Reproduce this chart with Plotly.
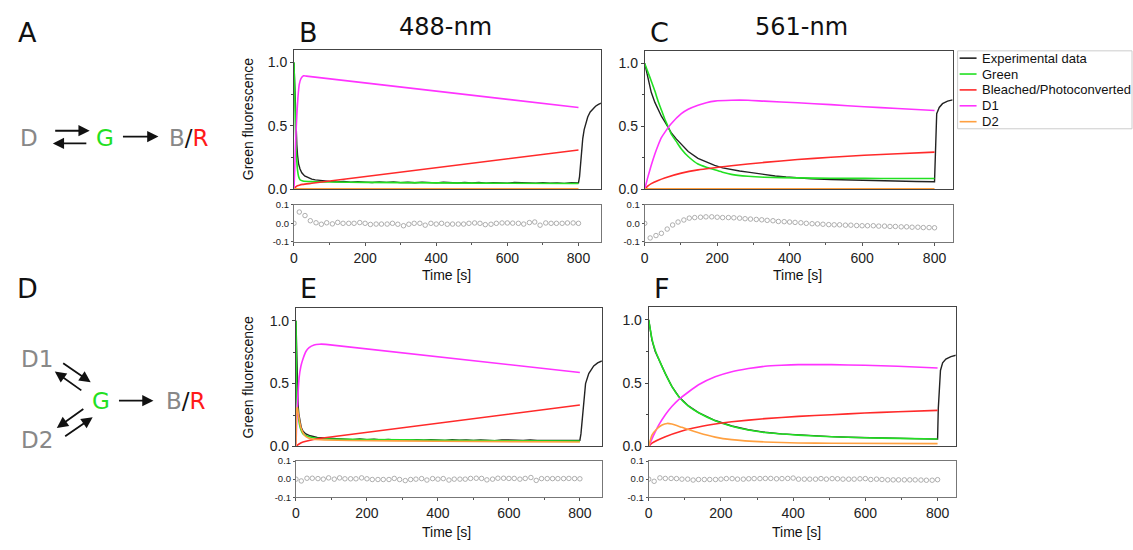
import plotly.graph_objects as go

# ---------------- data ----------------
# Panel B (488-nm, model A)
b_exp_t = [0, 2, 4, 6, 8, 10, 13, 17, 22, 30, 40, 50, 60, 70, 80, 90,
           100, 120, 140, 160, 180, 200, 220, 240, 260, 280, 300, 320, 340, 360, 380, 400, 420, 440,
           460, 480, 500, 520, 540, 560, 580, 600, 620, 640, 660, 680, 700, 720, 740, 760, 780, 800,
           803, 806, 809, 812, 816, 820, 826, 833, 840, 848, 856, 865]
b_exp = [1.0, 0.8, 0.6, 0.45, 0.35, 0.27, 0.2, 0.16, 0.13, 0.105, 0.09, 0.08, 0.074, 0.07, 0.066, 0.064,
         0.062, 0.058, 0.061, 0.055, 0.059, 0.056, 0.053, 0.058, 0.054, 0.057, 0.052, 0.055, 0.051, 0.056,
         0.053, 0.05, 0.055, 0.052, 0.049, 0.054, 0.05, 0.053, 0.048, 0.052, 0.05, 0.047, 0.053, 0.049,
         0.051, 0.047, 0.052, 0.048, 0.05, 0.046, 0.051, 0.05,
         0.1, 0.22, 0.33, 0.4, 0.47, 0.52, 0.57, 0.61, 0.635, 0.655, 0.67, 0.68]
b_green_t = [0, 2, 4, 6, 8, 10, 13, 17, 25, 50, 100, 200, 400, 600, 800]
b_green = [1.0, 0.75, 0.5, 0.33, 0.22, 0.15, 0.1, 0.075, 0.065, 0.06, 0.057, 0.054, 0.05, 0.047, 0.045]
b_red_t = [0, 3, 6, 10, 15, 25, 50, 800]
b_red = [0, 0.01, 0.02, 0.027, 0.032, 0.038, 0.047, 0.31]
b_d1_t = [0, 2, 5, 8, 11, 15, 20, 27, 35, 800]
b_d1 = [0, 0.15, 0.4, 0.58, 0.72, 0.83, 0.875, 0.895, 0.893, 0.645]
b_d2_t = [0, 800]
b_d2 = [0.003, 0.003]

# Panel C (561-nm, model A)
c_exp_t = [0, 9, 18, 28, 37, 46, 55, 64, 73, 87, 101, 120, 147, 170, 193, 215, 239, 262, 285, 310,
           330, 360, 390, 422, 460, 514, 560, 606, 650, 698, 750, 800, 803, 806, 813, 822, 836, 850]
c_exp = [1.0, 0.88, 0.77, 0.69, 0.63, 0.58, 0.54, 0.49, 0.45, 0.4, 0.36, 0.3, 0.245, 0.215, 0.19, 0.17,
         0.155, 0.145, 0.136, 0.125, 0.115, 0.105, 0.097, 0.09, 0.083, 0.077, 0.073, 0.07, 0.067, 0.064,
         0.061, 0.059, 0.45, 0.6, 0.65, 0.68, 0.70, 0.71]
c_green_t = [0, 9, 18, 28, 37, 46, 55, 64, 73, 87, 101, 120, 147, 170, 193, 215, 239, 285, 330, 422,
             514, 606, 698, 800]
c_green = [1.0, 0.93, 0.86, 0.78, 0.7, 0.63, 0.56, 0.5, 0.44, 0.38, 0.32, 0.26, 0.2, 0.175, 0.155, 0.135,
           0.118, 0.103, 0.095, 0.09, 0.087, 0.086, 0.085, 0.085]
c_red_t = [0, 9, 18, 37, 55, 101, 147, 239, 330, 422, 514, 606, 698, 800]
c_red = [0, 0.026, 0.044, 0.07, 0.09, 0.128, 0.154, 0.187, 0.213, 0.236, 0.254, 0.27, 0.282, 0.295]
c_d1_t = [0, 9, 18, 28, 37, 46, 55, 73, 101, 120, 147, 170, 193, 239, 285, 330, 422, 514, 606, 698, 800]
c_d1 = [0, 0.1, 0.19, 0.28, 0.35, 0.41, 0.45, 0.52, 0.6, 0.635, 0.667, 0.687, 0.70, 0.707, 0.707, 0.70,
        0.687, 0.672, 0.656, 0.641, 0.626]
c_d2_t = [0, 800]
c_d2 = [0.003, 0.003]

# Panel E (488-nm, model D)
e_exp_t = [0, 1, 2, 4, 6, 8, 11, 15, 20, 28, 40, 60, 80, 100,
           120, 140, 160, 180, 200, 220, 240, 260, 280, 300, 320, 340, 360, 380, 400, 420, 440, 460,
           480, 500, 520, 540, 560, 580, 600, 620, 640, 660, 680, 700, 720, 740, 760, 780, 800,
           803, 806, 811, 816, 825, 839, 850, 862]
e_exp = [1.0, 0.85, 0.7, 0.45, 0.33, 0.26, 0.2, 0.15, 0.12, 0.1, 0.085, 0.072, 0.067, 0.064,
         0.06, 0.058, 0.055, 0.059, 0.054, 0.057, 0.053, 0.056, 0.052, 0.055, 0.051, 0.055, 0.05, 0.054,
         0.052, 0.049, 0.054, 0.05, 0.053, 0.048, 0.052, 0.05, 0.047, 0.053, 0.049, 0.051, 0.048, 0.052,
         0.049, 0.05, 0.047, 0.051, 0.048, 0.05, 0.05,
         0.1, 0.2, 0.4, 0.5, 0.58, 0.64, 0.665, 0.68]
e_green_t = [0, 1, 2, 3, 5, 8, 12, 16, 20, 28, 40, 60, 100, 200, 400, 600, 800]
e_green = [1.0, 0.7, 0.45, 0.35, 0.28, 0.21, 0.15, 0.12, 0.1, 0.085, 0.075, 0.066, 0.06, 0.055, 0.05,
           0.046, 0.043]
e_red_t = [0, 5, 10, 20, 40, 70, 800]
e_red = [0, 0.012, 0.022, 0.035, 0.05, 0.065, 0.33]
e_d1_t = [0, 2, 5, 9, 14, 19, 28, 37, 51, 66, 84, 800]
e_d1 = [0, 0.2, 0.38, 0.55, 0.64, 0.69, 0.755, 0.786, 0.807, 0.813, 0.812, 0.588]
e_d2_t = [0, 1, 2, 4, 6, 9, 13, 18, 25, 35, 50, 80, 150, 400, 800]
e_d2 = [0, 0.2, 0.3, 0.31, 0.27, 0.22, 0.16, 0.12, 0.085, 0.068, 0.057, 0.052, 0.048, 0.042, 0.036]

# Panel F (561-nm, model D)
f_exp_t = [0, 9, 18, 28, 46, 64, 83, 110, 138, 184, 230, 276, 322, 368, 414, 460, 506, 552, 598, 644,
           690, 745, 800, 802, 805, 808, 814, 823, 837, 851]
f_exp = [1.0, 0.84, 0.75, 0.685, 0.575, 0.475, 0.395, 0.32, 0.268, 0.205, 0.162, 0.132, 0.112, 0.1, 0.091,
         0.083, 0.078, 0.073, 0.07, 0.067, 0.064, 0.061, 0.058, 0.3, 0.5, 0.6, 0.66, 0.69, 0.71, 0.72]
f_green_t = [0, 9, 18, 28, 46, 64, 83, 110, 138, 184, 230, 276, 322, 414, 506, 598, 690, 800]
f_green = [1.0, 0.85, 0.76, 0.69, 0.575, 0.475, 0.395, 0.318, 0.266, 0.203, 0.16, 0.13, 0.11, 0.09, 0.077,
           0.069, 0.064, 0.059]
f_red_t = [0, 9, 46, 92, 138, 184, 230, 322, 414, 506, 598, 690, 800]
f_red = [0, 0.026, 0.077, 0.123, 0.154, 0.177, 0.195, 0.22, 0.238, 0.251, 0.264, 0.274, 0.285]
f_d1_t = [0, 9, 18, 28, 46, 64, 83, 110, 138, 184, 230, 276, 322, 368, 414, 506, 598, 690, 800]
f_d1 = [0, 0.06, 0.115, 0.17, 0.25, 0.315, 0.37, 0.43, 0.487, 0.55, 0.59, 0.615, 0.633, 0.641, 0.646,
        0.646, 0.641, 0.633, 0.62]
f_d2_t = [0, 9, 23, 37, 51, 64, 92, 138, 184, 230, 322, 414, 506, 800]
f_d2 = [0, 0.09, 0.14, 0.17, 0.182, 0.177, 0.151, 0.108, 0.074, 0.054, 0.036, 0.028, 0.026, 0.023]

# Residuals
res_t = [0, 15, 31, 46, 62, 77, 92, 108, 123, 138, 154, 169, 185, 200, 215, 231, 246, 262, 277, 292,
         308, 323, 338, 354, 369, 385, 400, 415, 431, 446, 462, 477, 492, 508, 523, 538, 554, 569, 585, 600,
         615, 631, 646, 662, 677, 692, 708, 723, 738, 754, 769, 785, 800]
b_res = [0, 0.061, 0.042, 0.014, 0.003, -0.005, 0.003, -0.003, 0.005, 0, 0, 0, 0.004, 0, -0.006, -0.004,
         -0.004, -0.004, 0, -0.005, -0.013, -0.005, 0, 0, -0.01, 0, -0.004, 0, -0.005, -0.004, -0.004,
         -0.004, 0, 0.002, 0, -0.007, -0.005, 0, 0.002, 0.002, 0.001, 0, -0.004, 0.004, 0.007, -0.01,
         0.002, 0, 0, 0, 0.002, 0.002, 0]
c_res = [0, -0.079, -0.066, -0.054, -0.031, -0.009, 0.007, 0.018, 0.028, 0.031, 0.033, 0.035, 0.035,
         0.033, 0.031, 0.031, 0.03, 0.028, 0.025, 0.023, 0.021, 0.019, 0.016, 0.014, 0.01, 0.009, 0.007,
         0.005, 0.003, 0, -0.002, -0.003, -0.005, -0.007, -0.008, -0.008, -0.01, -0.01, -0.012, -0.013,
         -0.013, -0.013, -0.015, -0.015, -0.017, -0.017, -0.019, -0.019, -0.021, -0.021, -0.023, -0.023, -0.024]
e_res = [0, -0.01, 0.005, 0.005, 0.003, 0, 0.007, 0, 0.007, 0.002, 0.002, 0.002, 0.007, 0.002, -0.002,
         -0.002, -0.002, -0.002, 0.004, -0.002, -0.008, -0.002, 0, 0.003, -0.005, 0.003, 0, 0.003, -0.005,
         0, 0, 0, 0.004, 0.005, 0.004, -0.004, 0, 0.005, 0.005, 0.004, 0.004, 0, 0.004, 0.009, -0.007,
         0.003, 0.003, 0.003, 0.003, 0.003, 0.004, 0.003, 0.002]
f_res = [0, -0.012, 0.007, 0.004, 0.004, 0.003, 0, 0, -0.005, -0.002, -0.002, -0.002, -0.002, 0, 0.003,
         0.003, 0, 0, 0.002, 0.003, 0.003, 0.004, 0.004, 0.002, 0.003, 0.004, 0.006, 0, 0, 0, 0, 0.003, 0,
         0.003, 0.002, 0, 0, 0, 0.002, 0.003, -0.002, 0, -0.002, -0.004, -0.004, -0.004, -0.004, -0.004,
         -0.004, -0.005, -0.006, -0.006, -0.003]

series_names = ["Experimental data", "Green", "Bleached/Photoconverted", "D1", "D2"]
series_colors = ["#222222", "#22e022", "#ff2a2a", "#ff33ff", "#ffa040"]
main_ticks = [0, 0.5, 1.0]
main_ticktext = ["0.0", "0.5", "1.0"]
res_ticks = [-0.1, 0, 0.1]
res_ticktext = ["-0.1", "0.0", "0.1"]
time_ticks = [0, 200, 400, 600, 800]

# ---------------- layout helpers ----------------
W, H = 1133, 550
def fx(px): return px / W
def fy(py): return 1 - py / H

FONT = "Liberation Sans, Arial, sans-serif"
DFONT = "DejaVu Sans, Verdana, sans-serif"

panels = [
    dict(exp=(b_exp_t, b_exp), green=(b_green_t, b_green), red=(b_red_t, b_red), d1=(b_d1_t, b_d1),
         d2=(b_d2_t, b_d2), res=b_res, xpx=(291, 599), ypx=(45, 188), rpx=(204, 242), xmax=863),
    dict(exp=(c_exp_t, c_exp), green=(c_green_t, c_green), red=(c_red_t, c_red), d1=(c_d1_t, c_d1),
         d2=(c_d2_t, c_d2), res=c_res, xpx=(643, 952), ypx=(46, 188), rpx=(204, 242), xmax=850),
    dict(exp=(e_exp_t, e_exp), green=(e_green_t, e_green), red=(e_red_t, e_red), d1=(e_d1_t, e_d1),
         d2=(e_d2_t, e_d2), res=e_res, xpx=(293, 600), ypx=(310, 452), rpx=(467, 504), xmax=862),
    dict(exp=(f_exp_t, f_exp), green=(f_green_t, f_green), red=(f_red_t, f_red), d1=(f_d1_t, f_d1),
         d2=(f_d2_t, f_d2), res=f_res, xpx=(647, 955), ypx=(309, 452), rpx=(467, 504), xmax=850),
]

fig = go.Figure()
layout = {}
for i, p in enumerate(panels):
    mi = 2 * i + 1
    ri = 2 * i + 2
    mx = "x" if mi == 1 else f"x{mi}"
    my = "y" if mi == 1 else f"y{mi}"
    rx, ry = f"x{ri}", f"y{ri}"
    keys = ["exp", "green", "red", "d1", "d2"]
    for k, name, col in zip(keys, series_names, series_colors):
        t, v = p[k]
        fig.add_trace(go.Scatter(
            x=t, y=v, mode="lines", name=name, showlegend=False,
            line=dict(color=col, width=1.6 if k != "exp" else 1.4,
                      shape="linear" if k == "exp" else "spline", smoothing=0.5),
            xaxis=mx, yaxis=my))
    fig.add_trace(go.Scatter(
        x=res_t, y=p["res"], mode="markers", showlegend=False,
        marker=dict(symbol="circle-open", size=4.5, color="#9a9a9a", line=dict(width=0.8)),
        xaxis=rx, yaxis=ry))

    xdom = [fx(p["xpx"][0]), fx(p["xpx"][1])]
    axk = "xaxis" if mi == 1 else f"xaxis{mi}"
    ayk = "yaxis" if mi == 1 else f"yaxis{mi}"
    layout[axk] = dict(domain=xdom, range=[0, p["xmax"]], anchor=my, showline=True, mirror=True,
                       linecolor="#444", linewidth=1, showgrid=False, zeroline=False,
                       showticklabels=False, ticks="")
    layout[ayk] = dict(domain=[fy(p["ypx"][1]), fy(p["ypx"][0])], range=[0, 1.1], anchor=mx,
                       showline=True, mirror=True, linecolor="#444", linewidth=1, showgrid=False,
                       zeroline=False, tickvals=main_ticks, ticktext=main_ticktext, ticks="outside",
                       ticklen=3, tickcolor="#444",
                       minor=dict(tickvals=[0.25, 0.75], ticklen=2, tickcolor="#444", ticks="outside"),
                       tickfont=dict(family=FONT, size=14, color="#222"))
    layout[f"xaxis{ri}"] = dict(domain=xdom, range=[0, p["xmax"]], anchor=ry, showline=True, mirror=True,
                                linecolor="#777", linewidth=1, showgrid=False, zeroline=False,
                                tickvals=time_ticks, ticks="outside", ticklen=3, tickcolor="#555",
                                minor=dict(dtick=100, tick0=0, ticklen=2, ticks="outside", tickcolor="#555"),
                                tickfont=dict(family=FONT, size=14, color="#222"))
    layout[f"yaxis{ri}"] = dict(domain=[fy(p["rpx"][1]), fy(p["rpx"][0])], range=[-0.1, 0.1], anchor=rx,
                                showline=True, mirror=True, linecolor="#777", linewidth=1, showgrid=False,
                                zeroline=False, tickvals=res_ticks, ticktext=res_ticktext, ticks="outside",
                                ticklen=2, tickcolor="#555",
                                tickfont=dict(family=FONT, size=9.5, color="#222"))

ann = []
shapes = []
def text(px, py, s, size, color="#111", family=DFONT, angle=0, xanchor="center"):
    ann.append(dict(x=fx(px), y=fy(py), xref="paper", yref="paper", text=s, showarrow=False,
                    font=dict(family=family, size=size, color=color), xanchor=xanchor,
                    yanchor="middle", textangle=angle))

def arrow(x0, y0, x1, y1):
    ann.append(dict(x=fx(x1), y=fy(y1), xref="paper", yref="paper", ax=x0 - x1, ay=y0 - y1,
                    axref="pixel", ayref="pixel", text="", showarrow=True, arrowhead=2,
                    arrowsize=1.25, arrowwidth=1.8, arrowcolor="#111"))

# panel letters and titles
for lbl, px, py in [("A", 24, 27), ("B", 306, 27), ("C", 658, 27), ("D", 24, 290), ("E", 306, 290),
                    ("F", 660, 290)]:
    text(px, py, lbl, 27)
text(443, 22, "488-nm", 24)
text(800, 22, "561-nm", 24)

# axis titles
text(245, 116, "Green fluorescence", 14, family=FONT, angle=-90)
text(245, 381, "Green fluorescence", 14, family=FONT, angle=-90)
for px, py in [(444, 276), (796, 276), (444, 540), (795, 540)]:
    text(px, py, "Time [s]", 14, family=FONT)

GRAY = "#888888"
GREEN = "#22e022"
BR = "<span style='color:#888888'>B</span>/<span style='color:#ff1a1a'>R</span>"
# scheme A
text(25, 135, "D", 23, color=GRAY)
text(101, 135, "G", 23, color=GREEN)
text(186, 135, BR, 23)
arrow(50, 128, 86, 128)
arrow(84, 141, 49, 141)
arrow(118, 134, 155, 134)
# scheme D
text(33, 362, "D1", 23, color=GRAY)
text(97, 405, "G", 23, color=GREEN)
text(183, 405, BR, 23)
text(33, 445, "D2", 23, color=GRAY)
arrow(58, 366, 87, 386)
arrow(79, 395, 51, 375)
arrow(114, 405, 150, 405)
arrow(81, 413, 53, 433)
arrow(60, 442, 89, 422)

# legend (drawn box, samples and labels)
leg_x0, leg_x1, leg_y0, leg_y1 = 957, 1132, 46, 126
shapes.append(dict(type="rect", xref="paper", yref="paper", x0=fx(leg_x0), x1=fx(leg_x1),
                   y0=fy(leg_y1), y1=fy(leg_y0), line=dict(color="#cccccc", width=1),
                   fillcolor="white", layer="above"))
for j, (name, col) in enumerate(zip(series_names, series_colors)):
    yy = 53.5 + j * 16.3
    shapes.append(dict(type="line", xref="paper", yref="paper", x0=fx(959), x1=fx(976),
                       y0=fy(yy), y1=fy(yy), line=dict(color=col, width=1.6), layer="above"))
    text(979, yy, name, 13, family=FONT, xanchor="left")

fig.update_layout(
    width=W, height=H, margin=dict(l=0, r=0, t=0, b=0),
    paper_bgcolor="white", plot_bgcolor="white",
    showlegend=False,
    annotations=ann,
    shapes=shapes,
    **layout,
)

fig.write_html("out.html", config={"displayModeBar": False},
               post_script="document.body.style.margin='0px';")
